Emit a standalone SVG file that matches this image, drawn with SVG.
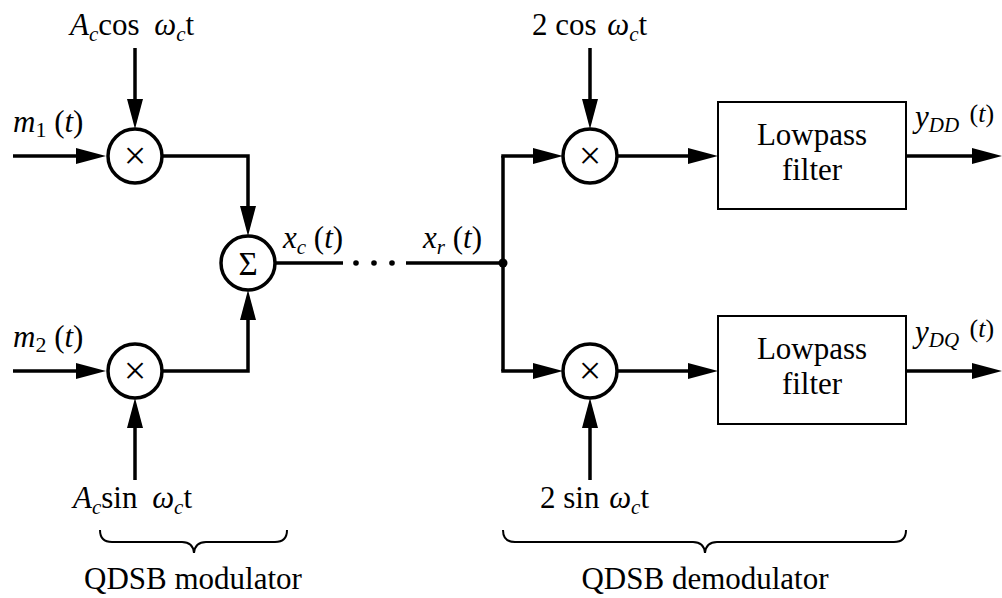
<svg xmlns="http://www.w3.org/2000/svg" width="1002" height="598" viewBox="0 0 1002 598" font-family="Liberation Serif, DejaVu Serif, serif">
<style>
text{fill:#000;font-size:31px}
.it{font-style:italic}
.sub{font-size:21px;font-style:italic}
.w{fill:none;stroke:#000;stroke-width:3.5}
.box{fill:#fff;stroke:#000;stroke-width:2}
.circ{fill:#fff;stroke:#000;stroke-width:3.5}
.brace{fill:none;stroke:#000;stroke-width:2}
.mid{text-anchor:middle}
.op{font-size:40px}
.sig{font-size:33px}
</style>
<defs>
<marker id="arr" markerUnits="userSpaceOnUse" markerWidth="30" markerHeight="16" refX="20" refY="8" orient="auto">
<path d="M0,0 L30,8 L0,16 z" fill="#000"/>
</marker>
</defs>
<rect width="1002" height="598" fill="#fff"/>

<g id="connectors">
<path class="w" d="M13,156 H96" marker-end="url(#arr)"/>
<path class="w" d="M135,48 V119" marker-end="url(#arr)"/>
<path class="w" d="M162,156 H248 V226" marker-end="url(#arr)"/>
<path class="w" d="M13,371 H96" marker-end="url(#arr)"/>
<path class="w" d="M135,480 V408" marker-end="url(#arr)"/>
<path class="w" d="M162,371 H248 V300" marker-end="url(#arr)"/>
<path class="w" d="M275,263 H343"/>
<circle cx="356" cy="263" r="2.8"/>
<circle cx="374" cy="263" r="2.8"/>
<circle cx="392" cy="263" r="2.8"/>
<path class="w" d="M406,263 H503"/>
<circle cx="503" cy="263" r="4.5"/>
<path class="w" d="M503,156 V371"/>
<path class="w" d="M501.25,156 H553" marker-end="url(#arr)"/>
<path class="w" d="M501.25,371 H553" marker-end="url(#arr)"/>
<path class="w" d="M590,48 V119" marker-end="url(#arr)"/>
<path class="w" d="M590,480 V408" marker-end="url(#arr)"/>
<path class="w" d="M617,156 H708" marker-end="url(#arr)"/>
<path class="w" d="M617,371 H708" marker-end="url(#arr)"/>
<path class="w" d="M906,156 H992" marker-end="url(#arr)"/>
<path class="w" d="M906,371 H992" marker-end="url(#arr)"/>
</g>

<g id="mod-mult1">
<circle class="circ" cx="135" cy="156" r="27"/>
<text class="mid op" x="135" y="169">×</text>
</g>
<g id="mod-mult2">
<circle class="circ" cx="135" cy="371" r="27"/>
<text class="mid op" x="135" y="384">×</text>
</g>
<g id="sum">
<circle class="circ" cx="248" cy="263" r="27"/>
<text class="mid sig" x="248" y="275">Σ</text>
</g>
<g id="demod-mult1">
<circle class="circ" cx="590" cy="156" r="27"/>
<text class="mid op" x="590" y="169">×</text>
</g>
<g id="demod-mult2">
<circle class="circ" cx="590" cy="371" r="27"/>
<text class="mid op" x="590" y="384">×</text>
</g>
<g id="lpf1">
<rect class="box" x="718" y="102" width="188" height="107"/>
<text class="mid" x="812" y="145">Lowpass</text>
<text class="mid" x="812" y="180">filter</text>
</g>
<g id="lpf2">
<rect class="box" x="718" y="316" width="188" height="108"/>
<text class="mid" x="812" y="359">Lowpass</text>
<text class="mid" x="812" y="394">filter</text>
</g>

<g id="labels">
<text x="70" y="35"><tspan class="it">A</tspan><tspan class="sub" dy="6">c</tspan><tspan dy="-6">cos </tspan><tspan class="it" dx="7">ω</tspan><tspan class="sub" dy="6">c</tspan><tspan dy="-6">t</tspan></text>
<text x="73" y="508"><tspan class="it">A</tspan><tspan class="sub" dy="6">c</tspan><tspan dy="-6">sin </tspan><tspan class="it" dx="7">ω</tspan><tspan class="sub" dy="6">c</tspan><tspan dy="-6">t</tspan></text>
<text x="532" y="35">2 cos <tspan class="it" dx="3">ω</tspan><tspan class="sub" dy="6">c</tspan><tspan dy="-6">t</tspan></text>
<text x="540" y="508">2 sin <tspan class="it" dx="2">ω</tspan><tspan class="sub" dy="6">c</tspan><tspan dy="-6">t</tspan></text>
<text x="13" y="132"><tspan class="it">m</tspan><tspan style="font-size:22px" dy="5">1</tspan><tspan dy="-5"> (</tspan><tspan class="it">t</tspan>)</text>
<text x="13" y="347"><tspan class="it">m</tspan><tspan style="font-size:22px" dy="5">2</tspan><tspan dy="-5"> (</tspan><tspan class="it">t</tspan>)</text>
<text x="283" y="248"><tspan class="it">x</tspan><tspan class="sub" dy="6">c</tspan><tspan dy="-6"> (</tspan><tspan class="it">t</tspan>)</text>
<text x="423" y="248"><tspan class="it">x</tspan><tspan class="sub" dy="6">r</tspan><tspan dy="-6"> (</tspan><tspan class="it">t</tspan>)</text>
<text x="915" y="127"><tspan class="it">y</tspan><tspan class="sub" dy="5">DD</tspan><tspan style="font-size:26px" dx="4" dy="-10"> (</tspan><tspan class="it" style="font-size:26px">t</tspan><tspan style="font-size:26px">)</tspan></text>
<text x="915" y="342"><tspan class="it">y</tspan><tspan class="sub" dy="5">DQ</tspan><tspan style="font-size:26px" dx="4" dy="-10"> (</tspan><tspan class="it" style="font-size:26px">t</tspan><tspan style="font-size:26px">)</tspan></text>
</g>

<g id="brace-mod">
<path class="brace" d="M100,530 Q100,542 112,542 H182 Q193,542 194,553 Q195,542 206,542 H275 Q287,542 287,530"/>
<text class="mid" x="193" y="589">QDSB modulator</text>
</g>
<g id="brace-demod">
<path class="brace" d="M503,530 Q503,542 515,542 H693 Q704,542 705,553 Q706,542 717,542 H894 Q906,542 906,530"/>
<text class="mid" x="705" y="589">QDSB demodulator</text>
</g>
</svg>
